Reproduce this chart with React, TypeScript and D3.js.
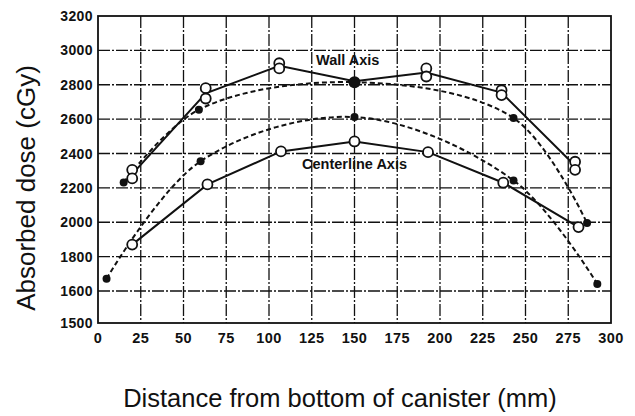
import * as d3 from 'd3';

// Wall Axis measurements (two readings per position)
const wallX = [20, 63, 106, 150, 192, 236, 279];
const wallHigh = [2305, 2780, 2925, 2820, 2895, 2768, 2352];
const wallLow = [2255, 2720, 2895, 2820, 2848, 2740, 2305];

// Centerline Axis measurements
const centerX = [20, 64, 107, 150, 193, 237, 281];
const centerY = [1870, 2220, 2412, 2470, 2408, 2230, 1972];

// Calculated curves (dashed)
const wallCalcX = [15, 59, 150, 243, 286];
const wallCalcY = [2232, 2655, 2815, 2606, 1995];
const centerCalcX = [5, 60, 150, 243, 292];
const centerCalcY = [1672, 2355, 2612, 2243, 1641];

const xTicks = [0, 25, 50, 75, 100, 125, 150, 175, 200, 225, 250, 275, 300];
const yTicks = [1500, 1600, 1800, 2000, 2200, 2400, 2600, 2800, 3000, 3200];

const W = 635;
const H = 416;

const App = () => {
  const x = d3.scaleLinear().domain([0, 300]).range([98, 611]);
  // the printed axis squeezes 1500-1600 into a short step
  const y = d3.scaleLinear().domain([1500, 1600, 3200]).range([323, 291, 16]);

  const font = '"Liberation Sans", Arial, Helvetica, sans-serif';
  const ink = '#111';
  const grid = '#111';

  const solid = d3.line<[number, number]>()
    .x(d => x(d[0]))
    .y(d => y(d[1]));
  const smooth = d3.line<[number, number]>()
    .x(d => x(d[0]))
    .y(d => y(d[1]))
    .curve(d3.curveCatmullRom.alpha(0.5));

  const wallMid = wallX.map((v, i) => [v, (wallHigh[i] + wallLow[i]) / 2] as [number, number]);
  const centerPts = centerX.map((v, i) => [v, centerY[i]] as [number, number]);
  const wallCalc = wallCalcX.map((v, i) => [v, wallCalcY[i]] as [number, number]);
  const centerCalc = centerCalcX.map((v, i) => [v, centerCalcY[i]] as [number, number]);

  const [x0, x1] = x.range();
  const yTop = y(3200);
  const yBot = y(1500);

  return (
    <svg width={W} height={H} style={{ position: 'absolute', left: 0, top: 0, background: '#fff' }}>
      {/* grid */}
      <g stroke={grid} strokeWidth={1.3} strokeDasharray="12,2,2,2">
        {xTicks.filter(t => t > 0 && t < 300).map(t => (
          <line key={'gx' + t} x1={x(t)} x2={x(t)} y1={yTop} y2={yBot} />
        ))}
        {yTicks.filter(t => t > 1500 && t < 3200).map(t => (
          <line key={'gy' + t} x1={x0} x2={x1} y1={y(t)} y2={y(t)} />
        ))}
      </g>
      {/* frame */}
      <rect x={x0} y={yTop} width={x1 - x0} height={yBot - yTop} fill="none" stroke={ink} strokeWidth={1.8} />

      {/* y tick labels */}
      <g fontFamily={font} fontWeight="bold" fontSize={14} fill={ink} textAnchor="end">
        {yTicks.map(t => (
          <text key={'ty' + t} x={x0 - 5} y={y(t)} dy="0.36em" letterSpacing={0.4}>{t}</text>
        ))}
      </g>
      {/* x tick labels */}
      <g fontFamily={font} fontWeight="bold" fontSize={14.5} fill={ink} textAnchor="middle">
        {xTicks.map(t => (
          <text key={'tx' + t} x={x(t)} y={343} letterSpacing={0.4}>{t}</text>
        ))}
      </g>

      {/* dashed calculated curves */}
      <path d={smooth(wallCalc) || ''} fill="none" stroke={ink} strokeWidth={2} strokeDasharray="5,3" />
      <path d={smooth(centerCalc) || ''} fill="none" stroke={ink} strokeWidth={2} strokeDasharray="5,3" />

      {/* solid measured lines */}
      <path d={solid(wallMid) || ''} fill="none" stroke={ink} strokeWidth={2} />
      <path d={solid(centerPts) || ''} fill="none" stroke={ink} strokeWidth={2} />

      {/* filled markers of the calculated curves */}
      {wallCalc.map((d, i) => (
        <circle key={'wc' + i} cx={x(d[0])} cy={y(d[1])} r={d[0] === 150 ? 6 : 4} fill={ink} />
      ))}
      {centerCalc.map((d, i) => (
        <circle key={'cc' + i} cx={x(d[0])} cy={y(d[1])} r={4} fill={ink} />
      ))}

      {/* open markers, wall pairs */}
      {wallX.map((v, i) => v === 150 ? null : (
        <g key={'wo' + i} fill="#fff" stroke={ink} strokeWidth={1.8}>
          <circle cx={x(v)} cy={y(wallHigh[i])} r={5} />
          <circle cx={x(v)} cy={y(wallLow[i])} r={5} />
        </g>
      ))}
      {centerPts.map((d, i) => (
        <circle key={'co' + i} cx={x(d[0])} cy={y(d[1])} r={5} fill="#fff" stroke={ink} strokeWidth={1.8} />
      ))}

      {/* curve labels */}
      <g fontFamily={font} fontWeight="bold" fontSize={14.5} fill={ink}>
        <text x={316} y={65}>Wall Axis</text>
        <text x={302} y={169}>Centerline Axis</text>
      </g>

      {/* axis titles */}
      <text
        transform={`translate(35,${188}) rotate(-90)`}
        textAnchor="middle"
        fontFamily={font}
        fontSize={26}
        fill={ink}
      >
        Absorbed dose (cGy)
      </text>
      <text x={340} y={407} textAnchor="middle" fontFamily={font} fontSize={25.5} fill={ink}>
        Distance from bottom of canister (mm)
      </text>
    </svg>
  );
};

export default App;
